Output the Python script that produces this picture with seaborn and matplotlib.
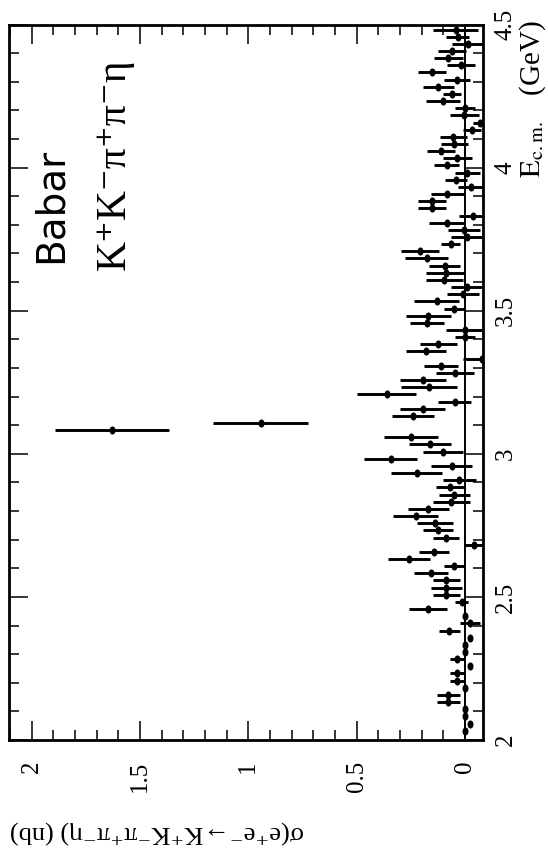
import matplotlib
matplotlib.use("Agg")
import matplotlib.pyplot as plt
import numpy as np
import pandas as pd
import seaborn as sns
from matplotlib.path import Path
from matplotlib.ticker import MultipleLocator

# Centre-of-mass energy bin centres (GeV)
energy = [
    2.0325, 2.0575, 2.0825, 2.1075, 2.1325, 2.1575, 2.1825, 2.2075, 2.2325, 2.2575,
    2.2825, 2.3075, 2.3325, 2.3575, 2.3825, 2.4075, 2.4325, 2.4575, 2.4825, 2.5075,
    2.5325, 2.5575, 2.5825, 2.6075, 2.6325, 2.6575, 2.6825, 2.7075, 2.7325, 2.7575,
    2.7825, 2.8075, 2.8325, 2.8575, 2.8825, 2.9075, 2.9325, 2.9575, 2.9825, 3.0075,
    3.0325, 3.0575, 3.0825, 3.1075, 3.1325, 3.1575, 3.1825, 3.2075, 3.2325, 3.2575,
    3.2825, 3.3075, 3.3325, 3.3575, 3.3825, 3.4075, 3.4325, 3.4575, 3.4825, 3.5075,
    3.5325, 3.5575, 3.5825, 3.6075, 3.6325, 3.6575, 3.6825, 3.7075, 3.7325, 3.7575,
    3.7825, 3.8075, 3.8325, 3.8575, 3.8825, 3.9075, 3.9325, 3.9575, 3.9825, 4.0075,
    4.0325, 4.0575, 4.0825, 4.1075, 4.1325, 4.1575, 4.1825, 4.2075, 4.2325, 4.2575,
    4.2825, 4.3075, 4.3325, 4.3575, 4.3825, 4.4075, 4.4325, 4.4575, 4.4825,
]

# Cross section (nb)
xsec = [
    0.000, -0.023, 0.000, 0.000, 0.077, 0.077, 0.000, 0.036, 0.036, -0.023,
    0.036, 0.000, 0.000, -0.022, 0.072, -0.023, 0.000, 0.170, 0.016, 0.087,
    0.087, 0.087, 0.157, 0.050, 0.258, 0.144, -0.042, 0.088, 0.123, 0.138,
    0.228, 0.170, 0.063, 0.050, 0.069, 0.026, 0.223, 0.062, 0.343, 0.100,
    0.162, 0.251, 1.628, 0.943, 0.240, 0.195, 0.048, 0.362, 0.166, 0.195,
    0.045, 0.111, -0.080, 0.182, 0.123, 0.000, 0.000, 0.177, 0.170, 0.051,
    0.131, 0.010, -0.007, 0.095, 0.090, 0.094, 0.177, 0.208, 0.066, -0.011,
    0.005, 0.085, -0.038, 0.151, 0.151, 0.081, -0.026, 0.042, -0.011, 0.085,
    0.035, 0.111, 0.050, 0.054, -0.034, -0.068, 0.003, 0.000, 0.102, 0.060,
    0.123, 0.038, 0.151, 0.019, 0.077, 0.060, -0.012, 0.034, 0.043,
]

# Statistical uncertainty (nb)
xsec_err = [
    0.008, 0.010, 0.008, 0.008, 0.054, 0.054, 0.008, 0.034, 0.034, 0.010,
    0.033, 0.008, 0.008, 0.010, 0.048, 0.046, 0.008, 0.087, 0.032, 0.062,
    0.072, 0.062, 0.078, 0.047, 0.098, 0.068, 0.048, 0.062, 0.069, 0.082,
    0.104, 0.094, 0.084, 0.071, 0.067, 0.076, 0.119, 0.096, 0.123, 0.092,
    0.095, 0.124, 0.263, 0.220, 0.097, 0.104, 0.077, 0.135, 0.128, 0.105,
    0.088, 0.077, 0.088, 0.092, 0.086, 0.044, 0.090, 0.079, 0.103, 0.047,
    0.105, 0.074, 0.074, 0.085, 0.088, 0.072, 0.098, 0.086, 0.045, 0.075,
    0.073, 0.082, 0.064, 0.065, 0.065, 0.076, 0.058, 0.052, 0.056, 0.059,
    0.068, 0.066, 0.063, 0.062, 0.042, 0.030, 0.066, 0.048, 0.078, 0.040,
    0.072, 0.059, 0.065, 0.066, 0.067, 0.063, 0.072, 0.052, 0.104,
]

xsec_ticks = [0, 0.5, 1, 1.5, 2]
xsec_tick_labels = ["0", "0.5", "1", "1.5", "2"]
energy_ticks = [2, 2.5, 3, 3.5, 4, 4.5]
energy_tick_labels = ["2", "2.5", "3", "3.5", "4", "4.5"]

sns.set_theme(style="ticks", rc={
    "axes.edgecolor": "black", "xtick.color": "black", "ytick.color": "black",
    "text.color": "black", "axes.labelcolor": "black",
    "axes.facecolor": "white", "figure.facecolor": "white",
})
plt.rcParams["font.family"] = ["Liberation Serif", "DejaVu Serif"]
plt.rcParams["mathtext.fontset"] = "stix"

W, H = 548, 857
fig = plt.figure(figsize=(W / 100, H / 100), dpi=100)


def fx(px):
    return px / W


def fy(py):
    return 1 - py / H


# the whole panel is laid out sideways: energy runs upward, cross section leftward
ax = fig.add_axes([fx(8.5), fy(740), (483 - 8.5) / W, (740 - 24.5) / H])

df = pd.DataFrame({"energy": energy, "xsec": xsec, "err": xsec_err})

ax.axvline(0, color="black", lw=1.4, zorder=1)
ax.errorbar(df["xsec"], df["energy"], xerr=df["err"], fmt="none",
            ecolor="black", elinewidth=2.1, capsize=0, zorder=2)

circle = Path.unit_circle()
dot = Path(circle.vertices * np.array([0.75, 1.0]), circle.codes)
sns.scatterplot(data=df, x="xsec", y="energy", marker=dot, s=34,
                color="black", edgecolor="black", linewidth=0,
                ax=ax, zorder=3, legend=False)

ax.set_xlim(2.107, -0.083)
ax.set_ylim(2.0, 4.5)
ax.set_xlabel("")
ax.set_ylabel("")

ax.set_xticks(xsec_ticks, xsec_tick_labels)
ax.set_yticks(energy_ticks, energy_tick_labels)
ax.xaxis.set_minor_locator(MultipleLocator(0.1))
ax.yaxis.set_minor_locator(MultipleLocator(0.1))

for side in ax.spines.values():
    side.set_linewidth(2.0)
    side.set_color("black")

ax.tick_params(which="both", direction="in", top=True, bottom=True,
               left=True, right=True, width=1.1, color="black")
ax.tick_params(which="major", length=13.5)
ax.tick_params(which="minor", length=7)
ax.tick_params(axis="x", labelrotation=90, pad=15, labelsize=18)
ax.tick_params(axis="y", labelleft=False, labelright=True,
               labelrotation=90, pad=8.6, labelsize=18)
plt.setp(ax.get_yticklabels(), va="center")

fig.text(fx(10), fy(832), "σ(e⁺e⁻→K⁺K⁻π⁺π⁻η) (nb)",
         rotation=180, ha="left", va="center", fontsize=19)
fig.text(fx(532.5), fy(20), r"$\mathrm{E_{c.m.}}$   (GeV)",
         rotation=90, ha="center", va="top", fontsize=21)

fig.text(fx(62), fy(263), "Babar", rotation=90, rotation_mode="anchor",
         ha="left", va="baseline", fontsize=28, family="DejaVu Sans")
fig.text(fx(125), fy(270), "K⁺K⁻π⁺π⁻η", rotation=90,
         rotation_mode="anchor", ha="left", va="baseline", fontsize=30)

fig.savefig("out.png", dpi=100)
